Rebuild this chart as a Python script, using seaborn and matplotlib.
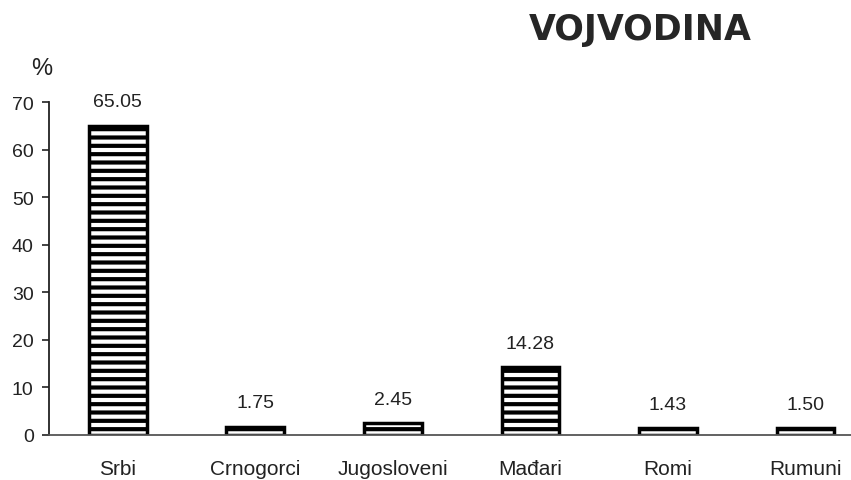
import numpy as np
import pandas as pd
import seaborn as sns
import matplotlib.pyplot as plt

# Data
groups = ['Srbi', 'Crnogorci', 'Jugosloveni', 'Mađari', 'Romi', 'Rumuni']
shares = [65.05, 1.75, 2.45, 14.28, 1.43, 1.50]
value_labels = ['65.05', '1.75', '2.45', '14.28', '1.43', '1.50']

df = pd.DataFrame({'group': groups, 'share': shares})

sns.set_style("white")
plt.rcParams['font.family'] = ['Liberation Sans', 'DejaVu Sans']
plt.rcParams['hatch.linewidth'] = 3.0
plt.rcParams['hatch.color'] = 'black'

fig = plt.figure(figsize=(8.51, 4.81), dpi=100)
ax = fig.add_axes([0.0576, 0.0936, 0.9424, 0.692])

sns.barplot(data=df, x='group', y='share', color='white', width=0.42,
            edgecolor='black', linewidth=2.5, ax=ax)
for bar in ax.patches:
    bar.set_hatch('--')

# value labels above bars
for bar, lab in zip(ax.patches, value_labels):
    ax.annotate(lab, (bar.get_x() + bar.get_width() / 2, bar.get_height()),
                xytext=(0, 11), textcoords='offset points',
                ha='center', va='bottom', fontsize=14, color='#222222')

ax.set_ylim(0, 70)
ax.set_xlim(-0.5, 5.33)
ax.set_yticks(range(0, 71, 10))
ax.set_xlabel('')
ax.set_ylabel('')

sns.despine(ax=ax, top=True, right=True)
ax.spines['left'].set_color('#222222')
ax.spines['left'].set_linewidth(1.3)
ax.spines['bottom'].set_color('#555555')
ax.spines['bottom'].set_linewidth(1.3)
ax.tick_params(axis='y', left=True, length=5, width=1.2, labelsize=14,
               colors='#222222', pad=6)
ax.tick_params(axis='x', bottom=False, labelsize=15, pad=14,
               colors='#222222')

fig.text(0.049, 0.857, '%', fontsize=17, ha='center', va='center',
         color='#222222')
fig.text(0.752, 0.938, 'VOJVODINA', fontsize=25, fontweight='heavy',
         ha='center', va='center', family=['DejaVu Sans'])

fig.savefig('out.png', dpi=100)
